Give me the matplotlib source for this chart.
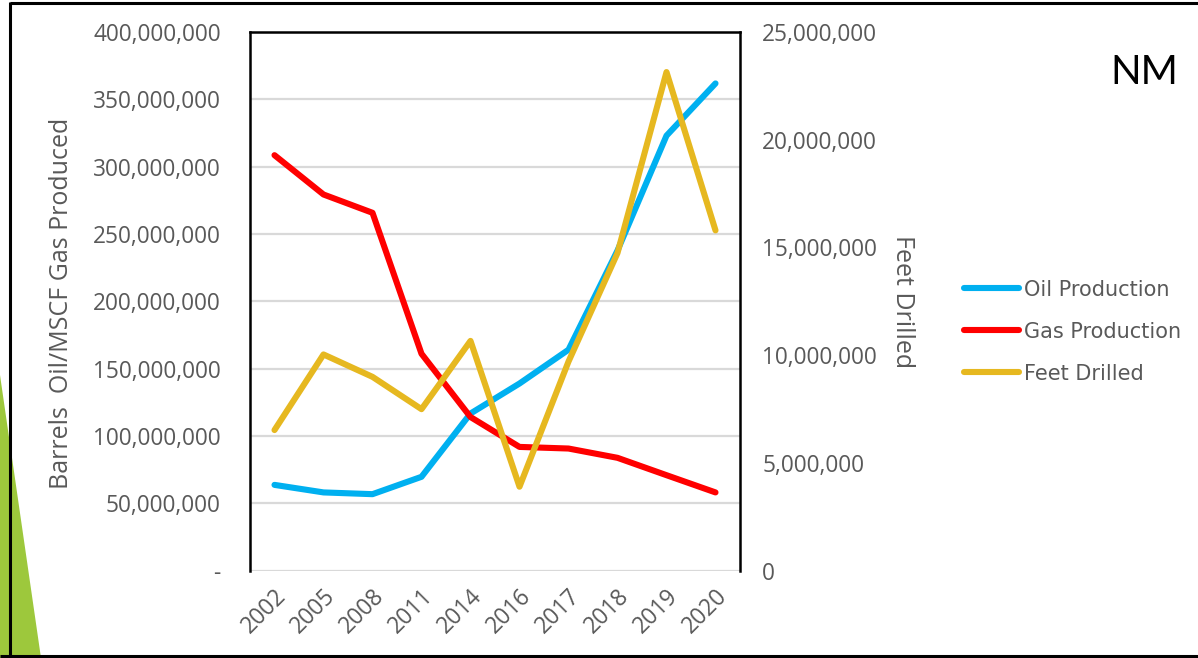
import matplotlib
matplotlib.use("Agg")
import matplotlib.pyplot as plt
from matplotlib.ticker import FuncFormatter, FixedLocator
from matplotlib.patches import Polygon

# Data
years = ["2002", "2005", "2008", "2011", "2014", "2016", "2017", "2018", "2019", "2020"]
oil_production = [63.6e6, 58.0e6, 56.7e6, 69.6e6, 116.6e6, 138.9e6, 164.0e6, 237.7e6, 323.0e6, 361.8e6]
gas_production = [308.5e6, 279.3e6, 265.7e6, 161.0e6, 114.0e6, 91.8e6, 90.6e6, 83.7e6, 70.8e6, 58.0e6]
feet_drilled = [6.52e6, 10.03e6, 8.99e6, 7.49e6, 10.66e6, 3.89e6, 9.70e6, 14.74e6, 23.14e6, 15.79e6]

left_ticks = [0, 50e6, 100e6, 150e6, 200e6, 250e6, 300e6, 350e6, 400e6]
right_ticks = [0, 5e6, 10e6, 15e6, 20e6, 25e6]

OIL_C = "#00B0F0"
GAS_C = "#FF0000"
FEET_C = "#E6B820"
TEXT_C = "#595959"
GRID_C = "#D9D9D9"

W, H = 1198, 658
fig = plt.figure(figsize=(W / 100, H / 100), dpi=100)
fig.patch.set_facecolor("white")

# Slide decoration: green wedge and frame
deco = fig.add_axes([0, 0, 1, 1], zorder=0)
deco.set_xlim(0, W)
deco.set_ylim(H, 0)
deco.axis("off")
deco.add_patch(Polygon([(0, 375), (41, H), (0, H)], closed=True,
                       facecolor="#9DC83C", edgecolor="none"))
deco.plot([10, 10], [2, 656], color="black", lw=2.2, solid_capstyle="butt")
deco.plot([10, W], [3, 3], color="black", lw=2.2, solid_capstyle="butt")
deco.plot([0, W], [656, 656], color="black", lw=2.2, solid_capstyle="butt")

# Main plot area
ax_l, ax_r = 250, 740
ax_t, ax_b = 32, 570.5
ax = fig.add_axes([ax_l / W, 1 - ax_b / H, (ax_r - ax_l) / W, (ax_b - ax_t) / H], zorder=2)
ax.set_facecolor("white")
x = list(range(len(years)))

ax.set_xlim(-0.5, len(years) - 0.5)
ax.set_ylim(0, 400e6)
ax.yaxis.set_major_locator(FixedLocator(left_ticks))
ax.yaxis.set_major_formatter(FuncFormatter(lambda v, p: "-" if v == 0 else f"{int(v):,}"))
ax.grid(axis="y", color=GRID_C, lw=1.6)
ax.set_axisbelow(True)

for s in ["left", "top", "right"]:
    ax.spines[s].set_color("black")
    ax.spines[s].set_linewidth(1.8)
ax.spines["bottom"].set_visible(False)

tick_family = ["Open Sans", "DejaVu Sans"]
tick_size = 16.3
ax.tick_params(axis="y", length=0, pad=21, labelcolor=TEXT_C)
ax.tick_params(axis="x", length=0, pad=10, labelcolor=TEXT_C)
ax.set_xticks(x)
ax.set_xticklabels(years, rotation=45, ha="right", va="top", rotation_mode="anchor")
for lab in ax.get_yticklabels():
    lab.set_fontfamily(tick_family)
    lab.set_fontsize(tick_size)
for lab in ax.get_xticklabels():
    lab.set_fontfamily(tick_family)
    lab.set_fontsize(16.5)

l_oil, = ax.plot(x, oil_production, color=OIL_C, lw=4.4, solid_capstyle="round",
                 solid_joinstyle="round", zorder=3, label="Oil Production")
l_gas, = ax.plot(x, gas_production, color=GAS_C, lw=4.4, solid_capstyle="round",
                 solid_joinstyle="round", zorder=3, label="Gas Production")

ax2 = ax.twinx()
ax2.set_ylim(0, 25e6)
ax2.yaxis.set_major_locator(FixedLocator(right_ticks))
ax2.yaxis.set_major_formatter(FuncFormatter(lambda v, p: f"{int(v):,}"))
ax2.tick_params(axis="y", length=0, pad=16, labelcolor=TEXT_C)
for lab in ax2.get_yticklabels():
    lab.set_fontfamily(tick_family)
    lab.set_fontsize(tick_size)
for s in ax2.spines.values():
    s.set_visible(False)
l_feet, = ax2.plot(x, feet_drilled, color=FEET_C, lw=4.4, solid_capstyle="round",
                   solid_joinstyle="round", zorder=3, label="Feet Drilled")

label_family = ["Open Sans", "DejaVu Sans"]
fig.text(62 / W, 1 - 303 / H, "Barrels  Oil/MSCF Gas Produced", rotation=90,
         ha="center", va="center", color=TEXT_C, fontsize=18, family=label_family)
fig.text(902 / W, 1 - 302 / H, "Feet Drilled", rotation=270,
         ha="center", va="center", color=TEXT_C, fontsize=18, family=label_family)

fig.text(1144 / W, 1 - 72 / H, "NM", ha="center", va="center", color="black",
         fontsize=29, family=["Lato", "DejaVu Sans"])

leg = fig.legend(handles=[l_oil, l_gas, l_feet], loc="upper left",
                 bbox_to_anchor=(945 / W, 1 - 261 / H), frameon=False,
                 handlelength=2.65, handletextpad=0.25, labelspacing=1.05,
                 prop={"family": ["DejaVu Sans"], "size": 15})
for t in leg.get_texts():
    t.set_color(TEXT_C)

fig.savefig("out.png", dpi=100, facecolor="white")
